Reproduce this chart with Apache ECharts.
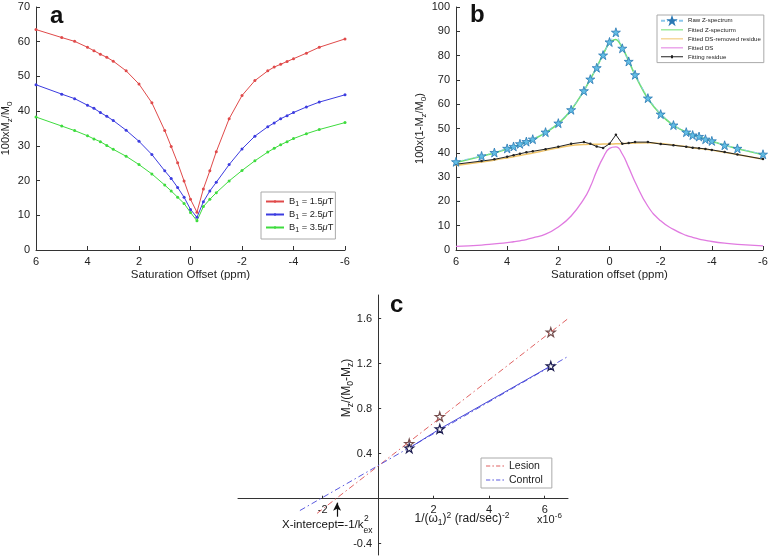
<!DOCTYPE html>
<html><head><meta charset="utf-8">
<script src="https://cdn.jsdelivr.net/npm/echarts@6/dist/echarts.min.js"></script>
<style>html,body{margin:0;padding:0;background:#fff}#c{width:772px;height:558px}</style>
</head><body><div id="c"></div>
<script>
// ---------- DATA ----------
const offsets = [6,5,4.5,4,3.75,3.5,3.25,3,2.5,2,1.5,1,0.75,0.5,0.25,0,-0.25,-0.5,-0.75,-1,-1.5,-2,-2.5,-3,-3.25,-3.5,-3.75,-4,-4.5,-5,-6];
// panel a
const b1_15 = [63.5,61.2,60.1,58.4,57.4,56.4,55.5,54.4,51.6,47.8,42.4,34.4,29.8,25.1,19.9,14.6,10.9,17.6,22.8,28.3,37.8,44.5,48.8,51.6,52.7,53.5,54.3,55.1,56.7,58.4,60.8];
const b1_25 = [47.6,44.9,43.6,41.7,40.8,39.6,38.5,37.3,34.5,31.3,27.5,22.8,20.6,18.0,15.2,11.7,9.4,13.9,17.0,19.5,24.6,29.1,32.8,35.5,36.6,37.8,38.7,39.6,41.2,42.6,44.7];
const b1_35 = [38.3,35.7,34.4,32.9,32.0,31.2,30.1,29.0,27.0,24.6,21.9,18.7,17.0,15.2,13.4,10.8,8.4,12.5,14.6,16.5,19.9,22.9,25.7,28.2,29.3,30.3,31.2,32.1,33.5,34.7,36.7];
const seriesNamesA = ['B1 = 1.5μT','B1 = 2.5μT','B1 = 3.5μT'];
// panel b
const rawZ = [36.3,38.7,40.1,41.8,42.6,43.7,44.6,45.6,48.5,52.2,57.7,65.5,70.3,75.0,80.2,85.6,89.6,83.0,77.6,72.1,62.5,55.9,51.4,48.5,47.3,46.7,45.6,44.9,43.1,41.8,39.4];
const fitZ = [36.0,38.6,39.9,41.6,42.4,43.4,44.4,45.4,48.3,52.0,57.6,65.5,70.3,75.2,80.5,85.3,86.6,83.3,77.8,72.0,62.3,55.8,51.3,48.5,47.3,46.6,45.6,44.8,43.1,41.7,39.2];
const dsRemoved = [34.8,36.2,37.0,37.9,38.4,38.9,39.4,39.9,41.0,42.1,43.0,43.4,43.5,43.5,43.6,43.6,43.7,43.8,43.9,44.0,44.1,43.8,43.2,42.5,42.1,41.8,41.5,41.1,40.2,39.3,37.3];
const fitDS = [1.5,2.0,2.5,3.0,3.4,3.8,4.3,5.0,6.5,9.5,14.0,21.0,26.0,32.5,38.0,41.8,42.4,39.5,34.0,28.0,18.0,12.0,8.5,6.0,5.2,4.5,4.0,3.5,2.8,2.3,1.7];
const residue = [35.3,36.6,37.3,38.4,39.0,39.6,40.2,40.6,41.5,42.5,43.7,44.4,43.7,42.6,42.0,43.7,47.4,43.7,44.0,44.4,44.4,43.6,43.1,42.5,42.1,41.9,41.6,41.2,40.3,39.3,37.4];
const seriesNamesB = ['Raw Z-spectrum','Fitted Z-specturm','Fitted DS-removed residue','Fitted DS','Fitting residue'];
// panel c
const cX = [1.12, 2.22, 6.22];
const lesion = [0.49, 0.73, 1.48];
const control = [0.45, 0.62, 1.18];
const lesionFit = [[-2.2,-0.13],[6.84,1.6]];
const controlFit = [[-2.82,-0.105],[6.84,1.264]];
const xIntercept = -1.48;
const cXTicks = [-2, 2, 4, 6];
const cYTicks = [-0.4, 0.4, 0.8, 1.2, 1.6];

// ---------- STYLE / LAYOUT ----------
const FF = '"Liberation Sans", Arial, sans-serif';
const AX = '#333';
const STAR = 'path://M50,2 L61.2,36 L97,36 L68,57 L79,91 L50,70 L21,91 L32,57 L3,36 L38.8,36 Z';
const LINE_ICON = 'path://M0,0h22v1h-22z';
const DASH_ICON = 'path://M0,0h4v1h-4z M6,0h1.5v1h-1.5z M9.5,0h4v1h-4z M15.5,0h1.5v1h-1.5z';
const DOT_ICON = 'path://M0,1h22v1h-22z M10,0h2v3h-2z';
const pair = (xs, ys) => xs.map((x,i)=>[x, ys[i]]);

const gC = {left:238, top:295, width:330, height:260};
const cXmin = -5.05, cXmax = 6.84, cYmin = -0.5, cYmax = 1.81;
// axes cross at the origin: shift axes inward by the distance of 0 from grid edge
const xOff = -(gC.height * (0 - cYmin) / (cYmax - cYmin));
const yOff = -(gC.width * (0 - cXmin) / (cXmax - cXmin));

function baseAxis(extra){
  return Object.assign({
    type:'value',
    axisLine:{show:true, onZero:false, lineStyle:{color:AX,width:1}},
    axisTick:{show:true, inside:true, length:4, lineStyle:{color:AX}},
    axisLabel:{color:'#222', fontSize:11, fontFamily:FF, margin:6},
    splitLine:{show:false}
  }, extra);
}
const richBase = {
  n:{fontSize:11, fontFamily:FF, color:'#222', lineHeight:16},
  s:{fontSize:8, fontFamily:FF, color:'#222', lineHeight:8, verticalAlign:'bottom'},
  p:{fontSize:8, fontFamily:FF, color:'#222', lineHeight:8, verticalAlign:'top'}
};

const chart = echarts.init(document.getElementById('c'), null, {renderer:'canvas'});

const cv = document.createElement('canvas').getContext('2d');
cv.font = '11.5px ' + FF;
const wMain = cv.measureText('X-intercept=-1/k').width;

const aColors = ['#e04a4a','#3c3ce0','#3edc3e'];
const aData = [b1_15, b1_25, b1_35];

const option = {
  animation:false,
  backgroundColor:'#fff',
  grid:[
    {left:36, top:7, width:309, height:243, outerBoundsMode:'none'},
    {left:456, top:7, width:307, height:243, outerBoundsMode:'none'},
    Object.assign({outerBoundsMode:'none'}, gC)
  ],
  xAxis:[
    baseAxis({gridIndex:0, min:-6, max:6, interval:2, inverse:true,
      name:'Saturation Offset (ppm)', nameLocation:'middle', nameGap:19,
      nameTextStyle:{fontSize:11.5, fontFamily:FF, color:'#222'}}),
    baseAxis({gridIndex:1, min:-6, max:6, interval:2, inverse:true,
      name:'Saturation offset (ppm)', nameLocation:'middle', nameGap:19,
      nameTextStyle:{fontSize:11.5, fontFamily:FF, color:'#222'}}),
    baseAxis({gridIndex:2, min:cXmin, max:cXmax, position:'bottom', offset:xOff,
      axisTick:{show:true, inside:true, length:3, lineStyle:{color:AX}, customValues:cXTicks},
      axisLabel:{color:'#222', fontSize:11, fontFamily:FF, margin:6, customValues:cXTicks}})
  ],
  yAxis:[
    baseAxis({gridIndex:0, min:0, max:70, interval:10,
      name:'{n|100xM}{s|z}{n|/M}{s|0}', nameLocation:'middle', nameGap:20,
      nameTextStyle:{rich:richBase}}),
    baseAxis({gridIndex:1, min:0, max:100, interval:10,
      name:'{n|100x(1-M}{s|z}{n|/M}{s|0}{n|)}', nameLocation:'middle', nameGap:23,
      nameTextStyle:{rich:richBase}}),
    baseAxis({gridIndex:2, min:cYmin, max:cYmax, position:'left', offset:yOff,
      axisTick:{show:true, inside:true, length:3, lineStyle:{color:AX}, customValues:cYTicks},
      axisLabel:{color:'#222', fontSize:11, fontFamily:FF, margin:6, customValues:cYTicks,
        formatter:(v)=>v.toFixed(1)}})
  ],
  legend:[
    {data:seriesNamesA, left:261, top:192, orient:'vertical', backgroundColor:'#fff',
     borderColor:'#aaa', borderWidth:1, borderRadius:0, padding:[5,2,5,4], itemGap:2,
     itemWidth:18, itemHeight:3,
     formatter:(name)=>{const v=name.match(/= ([\d.]+)/)[1]; return '{n|B}{s|1}{n| = '+v+'}{u|μ}{n|T}';},
     textStyle:{rich:{
       n:{fontSize:9.3, fontFamily:FF, color:'#222', lineHeight:13},
       s:{fontSize:7, fontFamily:FF, color:'#222', lineHeight:7, verticalAlign:'bottom'},
       u:{fontSize:9.3, fontFamily:FF, color:'#222', fontStyle:'italic', lineHeight:13}}}},
    {data:[
       {name:'Raw Z-spectrum'},
       {name:'Fitted Z-specturm', icon:LINE_ICON},
       {name:'Fitted DS-removed residue', icon:LINE_ICON},
       {name:'Fitted DS', icon:LINE_ICON},
       {name:'Fitting residue', icon:DOT_ICON}],
     left:657, top:15, orient:'vertical', backgroundColor:'#fff',
     borderColor:'#aaa', borderWidth:1, borderRadius:0, padding:[2,3,2,3], itemGap:1.5,
     itemWidth:22, itemHeight:7,
     textStyle:{fontSize:6.1, fontFamily:FF, color:'#222', lineHeight:7.5}},
    {data:[{name:'Lesion', icon:DASH_ICON},{name:'Control', icon:DASH_ICON}],
     left:481, top:458, orient:'vertical', backgroundColor:'#fff',
     borderColor:'#aaa', borderWidth:1, borderRadius:0, padding:[2,9,2,5], itemGap:2,
     itemWidth:18, itemHeight:1.2,
     textStyle:{fontSize:10.5, fontFamily:FF, color:'#222', lineHeight:12}}
  ],
  series:[
    // panel a
    ...aData.map((arr,i)=>({
      name:seriesNamesA[i], type:'line', xAxisIndex:0, yAxisIndex:0,
      data:pair(offsets, arr), symbol:'circle', symbolSize:3, showSymbol:true,
      lineStyle:{color:aColors[i], width:1}, itemStyle:{color:aColors[i]}
    })),
    // panel b
    {name:'Fitted DS-removed residue', type:'line', xAxisIndex:1, yAxisIndex:1, smooth:true,
     data:pair(offsets, dsRemoved), symbol:'none', lineStyle:{color:'#f0c468', width:1.5}, itemStyle:{color:'#f0c468'}},
    {name:'Fitting residue', type:'line', xAxisIndex:1, yAxisIndex:1,
     data:pair(offsets, residue), symbol:'circle', symbolSize:2.5,
     lineStyle:{color:'#222', width:1}, itemStyle:{color:'#222'}},
    {name:'Fitted DS', type:'line', xAxisIndex:1, yAxisIndex:1, smooth:true,
     data:pair(offsets, fitDS), symbol:'none', lineStyle:{color:'#e07ae0', width:1.3}, itemStyle:{color:'#e07ae0'}},
    {name:'Fitted Z-specturm', type:'line', xAxisIndex:1, yAxisIndex:1, smooth:0.3,
     data:pair(offsets, fitZ), symbol:'none', lineStyle:{color:'#6ee06e', width:1.6}, itemStyle:{color:'#6ee06e'}},
    {name:'Raw Z-spectrum', type:'line', xAxisIndex:1, yAxisIndex:1,
     data:pair(offsets, rawZ), symbol:STAR, symbolSize:9,
     lineStyle:{color:'#8cc8ec', width:1, type:[4,2,1,2]},
     itemStyle:{color:'#62bde4', borderColor:'#2a78b4', borderWidth:0.8}},
    // panel c
    {name:'Lesion', type:'line', xAxisIndex:2, yAxisIndex:2, data:lesionFit, symbol:'none',
     lineStyle:{color:'#e06262', width:1, type:[6,3,1.5,3]}, itemStyle:{color:'#e06262'},
     markLine:{silent:true, symbol:['none','arrow'], symbolSize:[6,8],
       lineStyle:{color:'#111', width:1.2, type:'solid'}, label:{show:false},
       data:[[{coord:[xIntercept,-0.16]},{coord:[xIntercept,-0.035]}]]}},
    {name:'Control', type:'line', xAxisIndex:2, yAxisIndex:2, data:controlFit, symbol:'none',
     lineStyle:{color:'#5a5ae0', width:1, type:[6,3,1.5,3]}, itemStyle:{color:'#5a5ae0'}},
    {name:'Control data', type:'line', xAxisIndex:2, yAxisIndex:2, data:pair(cX, control),
     symbol:STAR, symbolSize:9, lineStyle:{color:'#4848d8', width:1},
     itemStyle:{color:'#fff', borderColor:'#1c1c50', borderWidth:1.2}},
    {name:'Lesion data', type:'scatter', xAxisIndex:2, yAxisIndex:2, data:pair(cX, lesion),
     symbol:STAR, symbolSize:9,
     itemStyle:{color:'#fff', borderColor:'#502020', borderWidth:1.2}}
  ],
  graphic:[
    {type:'text', x:50, y:16, style:{text:'a', font:'bold 24px '+FF, fill:'#111', verticalAlign:'middle'}},
    {type:'text', x:470, y:15, style:{text:'b', font:'bold 24px '+FF, fill:'#111', verticalAlign:'middle'}},
    {type:'text', x:390, y:305, style:{text:'c', font:'bold 24px '+FF, fill:'#111', verticalAlign:'middle'}},
    {type:'text', x:347, y:388, rotation:Math.PI/2,
     style:{text:'{n|M}{s|z}{n|/(M}{s|0}{n|-M}{s|z}{n|)}', align:'center', verticalAlign:'middle',
       rich:{n:{fontSize:12, fontFamily:FF, fill:'#222', lineHeight:16},
             s:{fontSize:8.5, fontFamily:FF, fill:'#222', lineHeight:8, verticalAlign:'bottom'}}}},
    {type:'text', x:462, y:519,
     style:{text:'{n|1/(}{n|ω}{s|1}{n|)}{p|2}{n| (rad/sec)}{p|-2}', align:'center', verticalAlign:'middle',
       rich:{n:{fontSize:12, fontFamily:FF, fill:'#222', lineHeight:16},
             s:{fontSize:8.5, fontFamily:FF, fill:'#222', lineHeight:8, verticalAlign:'bottom'},
             p:{fontSize:8.5, fontFamily:FF, fill:'#222', lineHeight:8, verticalAlign:'top'}}}},
    {type:'text', x:537, y:520,
     style:{text:'{n|x10}{p|-6}', align:'left', verticalAlign:'middle',
       rich:{n:{fontSize:11, fontFamily:FF, fill:'#222', lineHeight:16},
             p:{fontSize:8, fontFamily:FF, fill:'#222', lineHeight:8, verticalAlign:'top'}}}},
    {type:'text', x:282, y:525, style:{text:'X-intercept=-1/k', font:'11.5px '+FF, fill:'#111', verticalAlign:'middle'}},
    {type:'text', x:282+wMain+0.5, y:519, style:{text:'2', font:'8.5px '+FF, fill:'#111', verticalAlign:'middle'}},
    {type:'text', x:282+wMain, y:531, style:{text:'ex', font:'8.5px '+FF, fill:'#111', verticalAlign:'middle'}}
  ]
};
chart.setOption(option);
</script>
</body></html>
